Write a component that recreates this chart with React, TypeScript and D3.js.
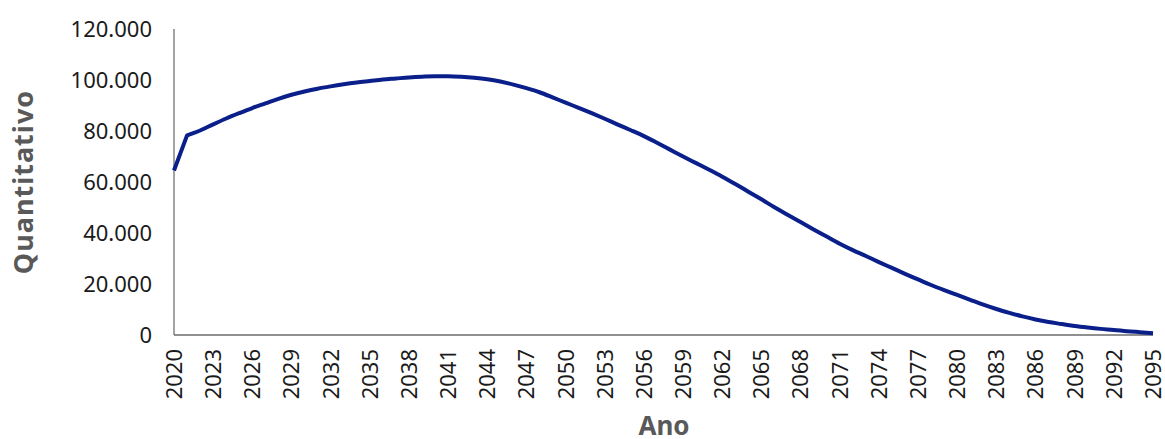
import React from 'react';
import * as d3 from 'd3';

// Quantitativo por ano (milhares)
const years: number[] = d3.range(2020, 2096);
const values: number[] = [
  64.5, 78.3, 80.2, 82.6, 84.9, 87.0, 89.0, 90.8, 92.6, 94.2,
  95.5, 96.6, 97.5, 98.3, 99.0, 99.6, 100.2, 100.6, 101.0, 101.3,
  101.5, 101.5, 101.3, 100.9, 100.3, 99.4, 98.2, 96.8, 95.2, 93.2,
  91.1, 89.1, 87.0, 84.8, 82.5, 80.3, 78.0, 75.4, 72.7, 70.0,
  67.4, 64.8, 62.1, 59.2, 56.2, 53.2, 50.1, 47.2, 44.3, 41.4,
  38.6, 35.8, 33.3, 31.0, 28.6, 26.3, 24.0, 21.8, 19.6, 17.6,
  15.7, 13.8, 11.9, 10.2, 8.7, 7.3, 6.1, 5.1, 4.3, 3.5,
  2.9, 2.4, 2.0, 1.5, 1.1, 0.7,
].map(v => v * 1000);

const yTicks = [0, 20000, 40000, 60000, 80000, 100000, 120000];
const xTickYears = d3.range(2020, 2096, 3);

const W = 1165;
const H = 439;
const margin = { left: 174, right: 12, top: 29, bottom: 104 };

const locale = d3.formatLocale({ decimal: ',', thousands: '.', grouping: [3], currency: ['R$', ''] });
const fmt = locale.format(',d');

const FONT = '"Noto Sans", "Open Sans", sans-serif';

const App: React.FC = () => {
  const x = d3.scaleLinear().domain([2020, 2095]).range([margin.left, 1153]);
  const y = d3.scaleLinear().domain([0, 120000]).range([H - margin.bottom, margin.top]);

  const pts = years.map((yr, i) => [yr, values[i]] as [number, number]);
  const line = d3
    .line<[number, number]>()
    .x(d => x(d[0]))
    .y(d => y(d[1]))
    .curve(d3.curveMonotoneX);

  // first segment straight, rest smoothed
  const path = `M${x(pts[0][0])},${y(pts[0][1])}L` + (line(pts.slice(1)) || '').slice(1);

  const y0 = y(0);

  return (
    <svg
      width={W}
      height={H}
      style={{ position: 'absolute', left: 0, top: 0, background: '#fff' }}
      fontFamily={FONT}
    >
      {/* axes */}
      <line x1={margin.left} x2={margin.left} y1={y(120000)} y2={y0} stroke="#858585" strokeWidth={1.5} />
      <line x1={margin.left} x2={x(2095)} y1={y0} y2={y0} stroke="#6b6b6b" strokeWidth={1.5} />

      {yTicks.map(t => (
        <text
          key={t}
          x={152}
          y={y(t)}
          dy="0.36em"
          textAnchor="end"
          fontSize={22}
          fill="#1a1a1a"
        >
          {fmt(t)}
        </text>
      ))}

      {xTickYears.map(yr => (
        <text
          key={yr}
          transform={`translate(${x(yr)},${y0 + 14}) rotate(-90)`}
          dy="0.36em"
          textAnchor="end"
          fontSize={22}
          fill="#1a1a1a"
        >
          {yr}
        </text>
      ))}

      <path d={path} fill="none" stroke="#0a1f8a" strokeWidth={4} strokeLinejoin="round" />

      <text
        transform={`translate(23,${(y(120000) + y0) / 2}) rotate(-90)`}
        dy="0.36em"
        textAnchor="middle"
        fontSize={27}
        fontWeight="bold"
        letterSpacing={1}
        fill="#595959"
      >
        Quantitativo
      </text>
      <text x={664} y={435} textAnchor="middle" fontSize={26} fontWeight="bold" fill="#595959">
        Ano
      </text>
    </svg>
  );
};

export default App;
